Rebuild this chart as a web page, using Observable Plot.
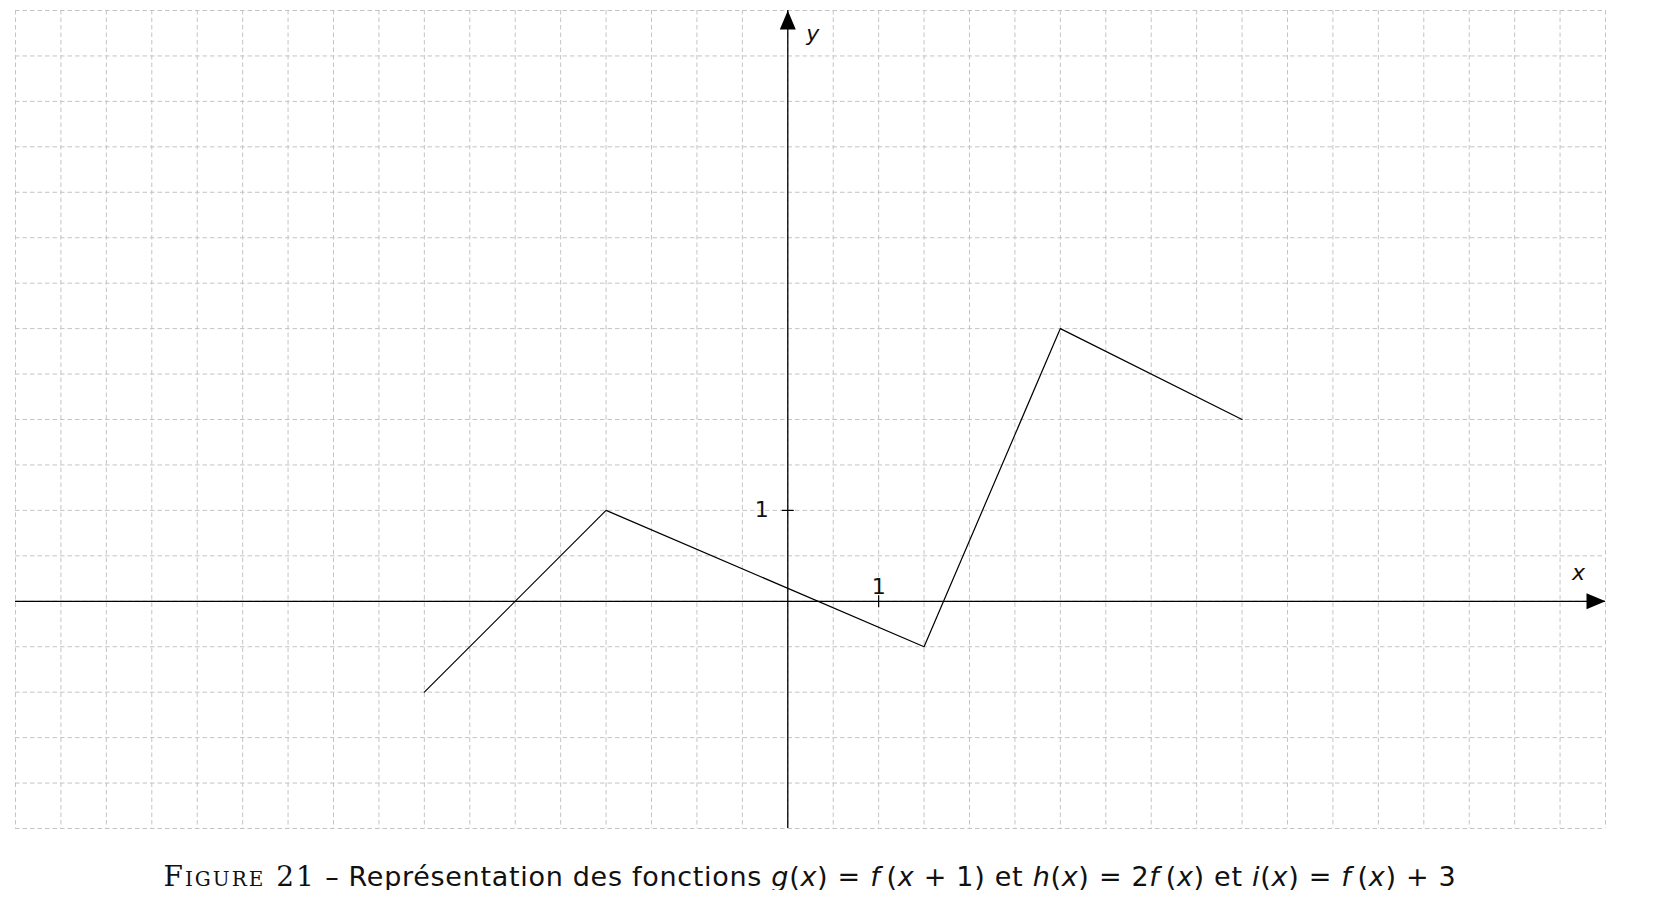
<!DOCTYPE html>
<html>
<head>
<meta charset="utf-8">
<script src="https://cdn.jsdelivr.net/npm/d3@7"></script>
<script src="https://cdn.jsdelivr.net/npm/@observablehq/plot@0.6"></script>
<style>
  html, body { margin: 0; padding: 0; background: #fff; }
  #chart svg { display: block; }
  .cap {
    width: 1620px;
    margin-top: 23px;
    text-align: center;
    font-family: "DejaVu Sans", sans-serif;
    font-size: 27px;
    line-height: 27px;
    letter-spacing: 0.7px;
    color: #111;
    white-space: nowrap;
  }
  .cap .fig { font-family: "DejaVu Serif", serif; font-variant: small-caps; font-size: 28px; letter-spacing: 2px; }
  .cap i { font-style: oblique; }
</style>
</head>
<body>
<div id="chart"></div>
<div class="cap"><span class="fig">Figure 21</span> – Représentation des fonctions <i>g</i>(<i>x</i>)&nbsp;=&nbsp;<i>f</i>&thinsp;(<i>x</i>&nbsp;+&nbsp;1) et <i>h</i>(<i>x</i>)&nbsp;=&nbsp;2<i>f</i>&thinsp;(<i>x</i>) et <i>i</i>(<i>x</i>)&nbsp;=&nbsp;<i>f</i>&thinsp;(<i>x</i>)&nbsp;+&nbsp;3</div>
<script>
// ---- data ----
const xDomain = [-8.5, 9];
const yDomain = [-2.5, 6.5];
const gridStep = 0.5;
const curveX = [-4, -2, 1.5, 3, 5];
const curveY = [-1, 1, -0.5, 3, 2];
const xTicks = [1];
const xTickLabels = ["1"];
const yTicks = [1];
const yTickLabels = ["1"];
const xAxisLabel = "x";
const yAxisLabel = "y";

const curve = curveX.map((x, i) => ({x, y: curveY[i]}));
const gridX = d3.range(xDomain[0], xDomain[1] + 1e-9, gridStep);
const gridY = d3.range(yDomain[0], yDomain[1] + 1e-9, gridStep);

// custom symbols (pixel-based)
const arrowRight = {draw(c) { c.moveTo(0, 0); c.lineTo(-19, -8); c.lineTo(-19, 8); c.closePath(); }};
const arrowUp = {draw(c) { c.moveTo(0, 0); c.lineTo(-8, 19); c.lineTo(8, 19); c.closePath(); }};
const tickH = {draw(c) { c.moveTo(-6, 0); c.lineTo(6, 0); }};
const tickV = {draw(c) { c.moveTo(0, -6); c.lineTo(0, 6); }};

const font = "DejaVu Sans, sans-serif";

const chart = Plot.plot({
  width: 1673,
  height: 840,
  marginLeft: 15,
  marginRight: 68,
  marginTop: 10,
  marginBottom: 12,
  x: {domain: xDomain, axis: null},
  y: {domain: yDomain, axis: null},
  marks: [
    Plot.ruleX(gridX, {stroke: "#c4c4c4", strokeWidth: 1, strokeDasharray: "4.5,3"}),
    Plot.ruleY(gridY, {stroke: "#c4c4c4", strokeWidth: 1, strokeDasharray: "4.5,3"}),
    Plot.ruleY([0], {stroke: "black", strokeWidth: 1.3}),
    Plot.ruleX([0], {stroke: "black", strokeWidth: 1.3}),
    Plot.line(curve, {x: "x", y: "y", stroke: "black", strokeWidth: 1.2}),
    Plot.dot(yTicks.map(v => ({x: 0, y: v})), {x: "x", y: "y", symbol: tickH, fill: "none", stroke: "black", strokeWidth: 1.2}),
    Plot.dot(xTicks.map(v => ({x: v, y: 0})), {x: "x", y: "y", symbol: tickV, fill: "none", stroke: "black", strokeWidth: 1.2}),
    Plot.text(yTicks.map((v, i) => ({x: 0, y: v, t: yTickLabels[i]})), {x: "x", y: "y", text: "t", textAnchor: "end", dx: -19, fontSize: 22, fontFamily: font, fill: "#111"}),
    Plot.text(xTicks.map((v, i) => ({x: v, y: 0, t: xTickLabels[i]})), {x: "x", y: "y", text: "t", dy: -14, fontSize: 22, fontFamily: font, fill: "#111"}),
    Plot.dot([{x: xDomain[1], y: 0}], {x: "x", y: "y", symbol: arrowRight, fill: "black", stroke: "none"}),
    Plot.dot([{x: 0, y: yDomain[1]}], {x: "x", y: "y", symbol: arrowUp, fill: "black", stroke: "none"}),
    Plot.text([{x: xDomain[1], y: 0}], {x: "x", y: "y", text: () => xAxisLabel, dx: -27, dy: -28, fontSize: 22, fontStyle: "oblique", fontFamily: font, fill: "#111"}),
    Plot.text([{x: 0, y: yDomain[1]}], {x: "x", y: "y", text: () => yAxisLabel, dx: 25, dy: 23, fontSize: 22, fontStyle: "oblique", fontFamily: font, fill: "#111"})
  ]
});
document.getElementById("chart").appendChild(chart);
</script>
</body>
</html>
